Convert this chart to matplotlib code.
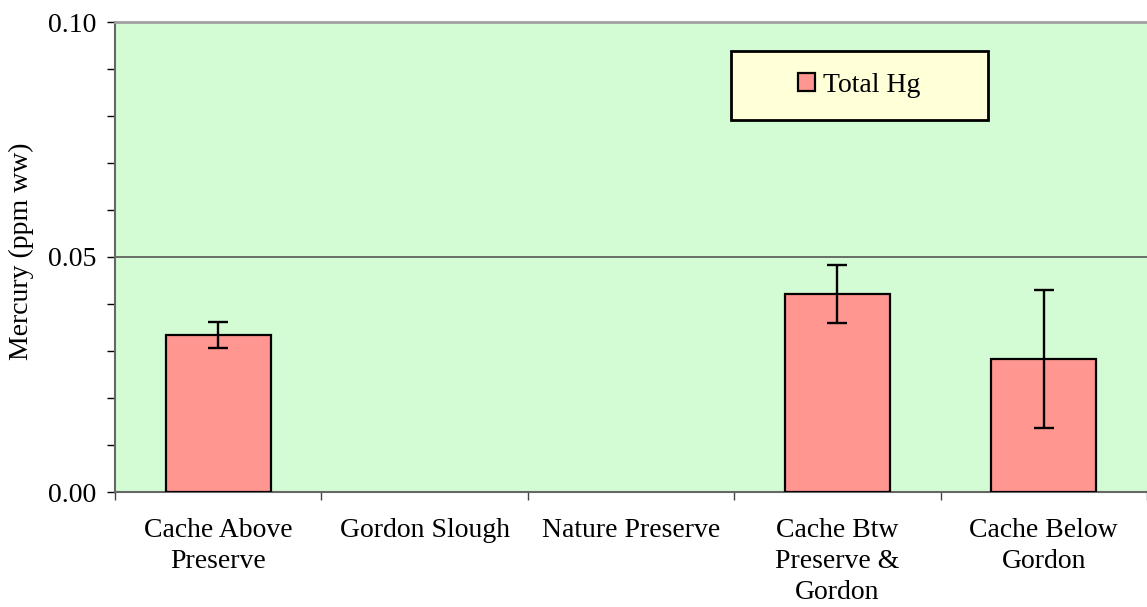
import numpy as np
import matplotlib
matplotlib.use("Agg")
import matplotlib.pyplot as plt
from matplotlib.patches import Rectangle, Patch

categories = ["Cache Above\nPreserve", "Gordon Slough", "Nature Preserve",
              "Cache Btw\nPreserve &\nGordon", "Cache Below\nGordon"]
total_hg = [0.0334, np.nan, np.nan, 0.0421, 0.0283]
total_hg_err = [0.0027, np.nan, np.nan, 0.0061, 0.0146]
y_ticks = [0.00, 0.05, 0.10]
y_ticklabels = ["0.00", "0.05", "0.10"]

plt.rcParams['font.family'] = ['Liberation Serif', 'DejaVu Serif']
FS = 20

fig = plt.figure(figsize=(11.47, 6.07), dpi=100)
ax = fig.add_axes([115/1147, 1 - 492/607, 1 - 115/1147, (492 - 22)/607])
ax.set_facecolor("#D4FCD4")

x = np.arange(len(categories))
ax.bar(x, total_hg, width=0.507, color="#FF9690", edgecolor="black", linewidth=1.6,
       label="Total Hg", zorder=3)
ax.errorbar(x, total_hg, yerr=total_hg_err, fmt="none", ecolor="black",
            elinewidth=1.7, capsize=7, capthick=1.7, zorder=4)

ax.set_xlim(-0.5, len(categories) - 0.5)
ax.set_ylim(0, 0.10)
ax.set_yticks(y_ticks)
ax.set_yticklabels(y_ticklabels, fontsize=FS)
ax.set_yticks(np.arange(0, 0.1001, 0.01), minor=True)
ax.tick_params(axis="y", which="both", length=5.5, width=1, direction="out", pad=8, color="black")

ax.set_xticks(x)
ax.set_xticklabels(categories, fontsize=FS, linespacing=1.3, va="top")
ax.set_xticks(np.arange(-0.5, len(categories)), minor=True)
ax.tick_params(axis="x", which="major", length=0, pad=19)
ax.tick_params(axis="x", which="minor", length=6, width=1, direction="out", color="#444444")

ax.axhline(0.05, color="#555555", linewidth=1.2, zorder=1)

ax.spines["right"].set_visible(False)
ax.spines["top"].set_color("#A0A0A0")
ax.spines["top"].set_linewidth(2)
for s in ["left", "bottom"]:
    ax.spines[s].set_color("#666666")
    ax.spines[s].set_linewidth(1.5)

ax.set_ylabel("Mercury (ppm ww)", fontsize=FS)
ax.yaxis.set_label_coords((34 - 115) / 1032, (492 - 251) / 470)

# legend box
bx0, by0 = (731 - 115) / 1032, (492 - 120) / 470
bw, bh = (988 - 731) / 1032, (120 - 51) / 470
ax.add_patch(Rectangle((bx0, by0), bw, bh, transform=ax.transAxes,
                       facecolor="#FFFFD8", edgecolor="black", linewidth=2, zorder=5))
leg = ax.legend(handles=[Patch(facecolor="#FF9690", edgecolor="black", linewidth=1.6, label="Total Hg")],
                loc="center", bbox_to_anchor=(bx0 + bw / 2, by0 + bh / 2), frameon=False,
                fontsize=FS, handlelength=0.6, handleheight=0.6, handletextpad=0.3)
leg.set_zorder(6)

fig.savefig("out.png", dpi=100)
